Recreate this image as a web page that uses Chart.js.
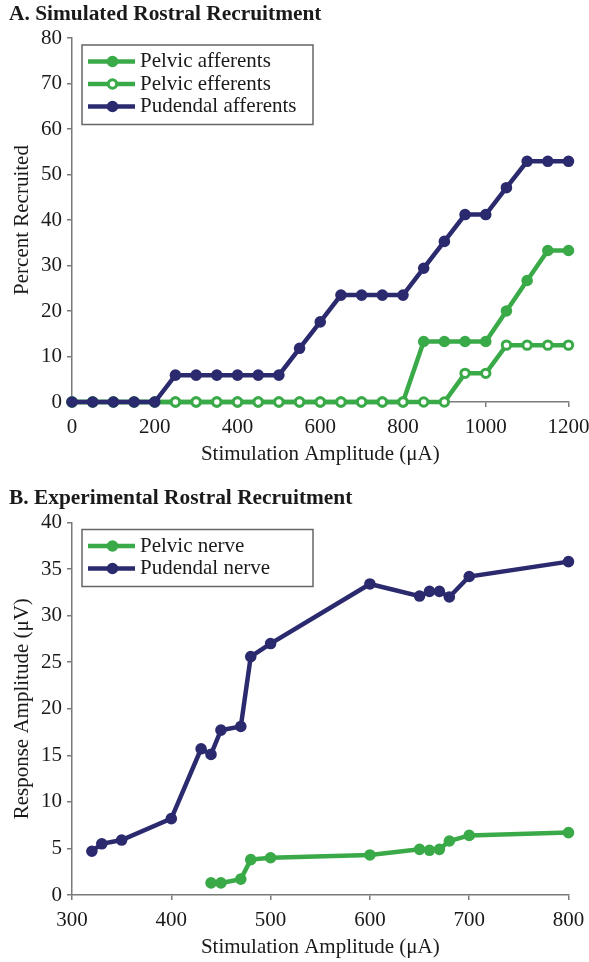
<!DOCTYPE html>
<html>
<head>
<meta charset="utf-8">
<script src="https://cdn.jsdelivr.net/npm/chart.js@4.4.1/dist/chart.umd.min.js"></script>
<style>
  body { margin: 0; background: #fff; }
  #page { position: relative; width: 589px; height: 962px; }
  canvas { position: absolute; left: 0; }
  .ttl { position: absolute; left: 9px; font: bold 21.4px 'Liberation Serif', serif; line-height: 21px; color: #1a1a1a; white-space: nowrap; }
</style>
</head>
<body>
<div id="page">
  <canvas id="chartA" width="589" height="480" style="top:0"></canvas>
  <canvas id="chartB" width="589" height="482" style="top:480px"></canvas>
  <div class="ttl" style="top:3px">A. Simulated Rostral Recruitment</div>
  <div class="ttl" style="top:487px">B. Experimental Rostral Recruitment</div>
</div>
<script>
// panel A - simulated recruitment (%)
const simAmps = [0, 50, 100, 150, 200, 250, 300, 350, 400, 450, 500, 550, 600,
  650, 700, 750, 800, 850, 900, 950, 1000, 1050, 1100, 1150, 1200];
const pelvicAfferents = [0, 0, 0, 0, 0, 0, 0, 0, 0, 0, 0, 0, 0,
  0, 0, 0, 0, 13.3, 13.3, 13.3, 13.3, 20, 26.7, 33.3, 33.3];
const pelvicEfferents = [0, 0, 0, 0, 0, 0, 0, 0, 0, 0, 0, 0, 0,
  0, 0, 0, 0, 0, 0, 6.3, 6.3, 12.5, 12.5, 12.5, 12.5];
const pudendalAfferents = [0, 0, 0, 0, 0, 5.9, 5.9, 5.9, 5.9, 5.9, 5.9, 11.8, 17.6,
  23.5, 23.5, 23.5, 23.5, 29.4, 35.3, 41.2, 41.2, 47.1, 52.9, 52.9, 52.9];

// panel B - experimental response (uV)
const pelvicNerveAmps = [440, 450, 470, 480, 500, 600, 650, 660, 670, 680, 700, 800];
const pelvicNerveResp = [1.3, 1.3, 1.7, 3.8, 4.0, 4.3, 4.9, 4.8, 4.9, 5.8, 6.4, 6.7];
const pudendalNerveAmps = [320, 330, 350, 400, 430, 440, 450, 470, 480, 500, 600, 650, 660, 670, 680, 700, 800];
const pudendalNerveResp = [4.7, 5.5, 5.9, 8.2, 15.7, 15.1, 17.7, 18.1, 25.6, 27.0, 33.4, 32.1, 32.6, 32.6, 32.0, 34.2, 35.8];

const GREEN = '#3aaa48';
const NAVY = '#2b2a6e';
const AXIS = '#7a7a7a';
const INK = '#1a1a1a';
const FONT = "'Liberation Serif', 'Times New Roman', serif";

function pts(xs, ys) {
  return xs.map((x, i) => ({ x: x, y: ys[i] }));
}

function series(label, xs, ys, color, open, order) {
  return {
    label: label,
    data: pts(xs, ys),
    borderColor: color,
    borderWidth: 4.5,
    pointRadius: open ? 4.2 : 4.8,
    pointBorderWidth: open ? 3 : 2,
    pointBorderColor: color,
    pointBackgroundColor: open ? '#fff' : color,
    pointHoverRadius: 0,
    tension: 0,
    clip: false,
    order: order
  };
}

// legend drawn as a boxed list inside the plot, line + marker samples
const boxLegend = {
  id: 'boxLegend',
  afterDraw(chart, args, opts) {
    const { ctx, chartArea } = chart;
    const sets = chart.data.datasets;
    const x0 = chartArea.left + 10;
    const y0 = chartArea.top + opts.top;
    const w = 231;
    const h = 16.5 + (sets.length - 1) * 22.5 + 18;
    ctx.save();
    ctx.fillStyle = '#fff';
    ctx.fillRect(x0, y0, w, h);
    ctx.strokeStyle = '#666';
    ctx.lineWidth = 1.5;
    ctx.strokeRect(x0, y0, w, h);
    ctx.font = '21px ' + FONT;
    ctx.textBaseline = 'middle';
    sets.forEach((ds, i) => {
      const y = y0 + 16.5 + i * 22.5;
      ctx.strokeStyle = ds.borderColor;
      ctx.lineWidth = ds.borderWidth;
      ctx.beginPath();
      ctx.moveTo(x0 + 6, y);
      ctx.lineTo(x0 + 53, y);
      ctx.stroke();
      ctx.beginPath();
      ctx.arc(x0 + 30.5, y, ds.pointRadius, 0, Math.PI * 2);
      ctx.fillStyle = ds.pointBackgroundColor;
      ctx.fill();
      ctx.lineWidth = ds.pointBorderWidth;
      ctx.strokeStyle = ds.pointBorderColor;
      ctx.stroke();
      ctx.fillStyle = INK;
      ctx.fillText(ds.label, x0 + 58, y);
    });
    ctx.restore();
  }
};

function makeChart(id, height, area, datasets, xr, yr, yTitle) {
  const canvas = document.getElementById(id);
  const tickFont = { family: FONT, size: 21 };
  const axisBits = {
    grid: { drawOnChartArea: false, drawTicks: true, tickLength: 5, color: AXIS, lineWidth: 1.5 },
    border: { display: true, color: AXIS, width: 1.5 }
  };
  return new Chart(canvas.getContext('2d'), {
    type: 'line',
    data: { datasets: datasets },
    options: {
      responsive: false,
      animation: false,
      events: [],
      layout: { padding: { top: area.top, left: 0, right: 589 - area.right, bottom: 0 } },
      plugins: {
        legend: { display: false },
        tooltip: { enabled: false },
        boxLegend: { top: 7 }
      },
      scales: {
        x: {
          type: 'linear',
          min: xr[0], max: xr[1],
          ...axisBits,
          ticks: {
            stepSize: xr[2], color: INK, font: tickFont, padding: 8, maxRotation: 0,
            callback: (v) => String(v)
          },
          title: {
            display: true,
            text: 'Stimulation Amplitude (μA)',
            color: INK,
            font: tickFont,
            padding: { top: 0, bottom: height - (area.bottom + 52.5) - 12.6 }
          },
          afterFit(scale) {
            scale.height = height - area.bottom;
            scale.paddingLeft = 0;
            scale.paddingRight = 0;
          }
        },
        y: {
          min: yr[0], max: yr[1],
          ...axisBits,
          ticks: { stepSize: yr[2], color: INK, font: tickFont, padding: 5, callback: (v) => String(v) },
          title: {
            display: true,
            text: yTitle,
            color: INK,
            font: tickFont,
            padding: { top: 9.8, bottom: 0 }
          },
          afterFit(scale) {
            scale.width = area.left;
            scale.paddingTop = 0;
            scale.paddingBottom = 0;
          }
        }
      }
    },
    plugins: [boxLegend]
  });
}

makeChart('chartA', 480, { top: 38, bottom: 402, left: 72, right: 568.5 }, [
  series('Pelvic afferents', simAmps, pelvicAfferents, GREEN, false, 3),
  series('Pelvic efferents', simAmps, pelvicEfferents, GREEN, true, 2),
  series('Pudendal afferents', simAmps, pudendalAfferents, NAVY, false, 1)
], [0, 1200, 200], [0, 80, 10], 'Percent Recruited');

makeChart('chartB', 482, { top: 42.5, bottom: 415, left: 72, right: 568.5 }, [
  series('Pelvic nerve', pelvicNerveAmps, pelvicNerveResp, GREEN, false, 2),
  series('Pudendal nerve', pudendalNerveAmps, pudendalNerveResp, NAVY, false, 1)
], [300, 800, 100], [0, 40, 5], 'Response Amplitude (μV)');
</script>
</body>
</html>
